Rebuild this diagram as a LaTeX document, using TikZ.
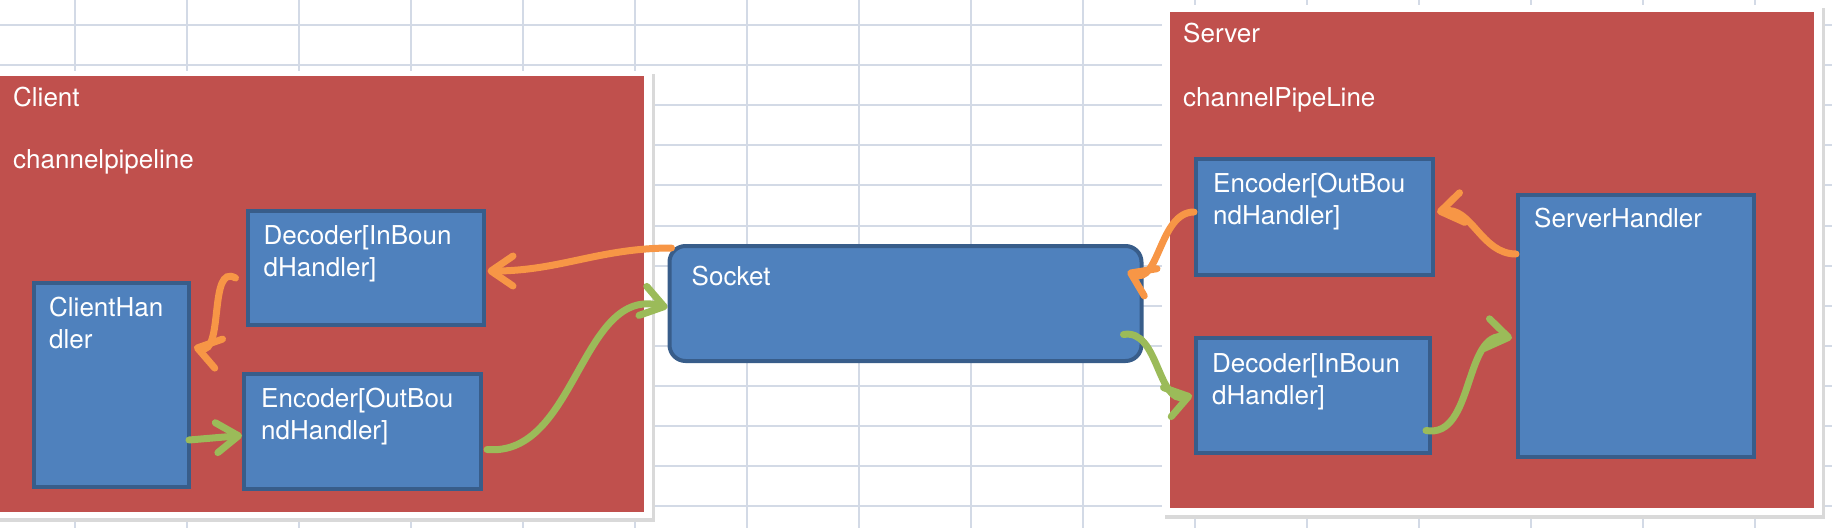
\documentclass[tikz,border=0pt]{standalone}
\usepackage{fontspec}
\setmainfont{TeX Gyre Heros}
\usetikzlibrary{calc}
\usetikzlibrary{arrows.meta}
\usetikzlibrary{positioning}

\definecolor{pipered}{HTML}{C0504D}
\definecolor{boxblue}{HTML}{4F81BD}
\definecolor{boxedge}{HTML}{385D8A}
\definecolor{inorange}{HTML}{F79646}
\definecolor{outgreen}{HTML}{9BBB59}
\definecolor{cellline}{HTML}{D3DAE6}

\tikzset{
 cell/.style={cellline, line width=2pt},
 pipe/.style={fill=pipered, draw=none, inner sep=0, anchor=north west},
 handler/.style={fill=boxblue, draw=boxedge, line width=4pt, inner sep=0, anchor=north west},
 lbl/.style={text=white, font=\fontsize{26}{32}\selectfont, align=left, anchor=north west, inner sep=0},
 flow/.style={line width=7pt, line cap=round, -{Straight Barb[length=22pt, width=30pt, round]}},
}

\begin{document}
\begin{tikzpicture}[x=1pt, y=-1pt]
\useasboundingbox (0,0) rectangle (1832,528);
\foreach \gx in {75,187,...,1755} \draw[cell] (\gx,0) -- (\gx,528);
\foreach \k in {0,...,12} \draw[cell] (0,{25+40.1*\k}) -- (1832,{25+40.1*\k});

\fill[black!15] (-4,74) rectangle (655,522);
\fill[white] (-4,71) rectangle (652,518);
\fill[black!15] (1165,8) rectangle (1825,519);
\fill[white] (1162,5) rectangle (1822,515);

\node[pipe, minimum width=644pt, minimum height=436pt] (cbox) at (0,76) {};
\node[pipe, minimum width=644pt, minimum height=496pt] (sbox) at (1170,12) {};
\node[lbl] (ctitle) at ([shift={(13,11)}]cbox.north west) {Client};
\node[lbl] (cpipe) at ([shift={(13,73)}]cbox.north west) {channelpipeline};
\node[lbl] (stitle) at ([shift={(13,11)}]sbox.north west) {Server};
\node[lbl] (spipe) at ([shift={(13,75)}]sbox.north west) {channelPipeLine};

\node[handler, minimum width=236pt, minimum height=114pt] (cdec) at (245.5,209) {};
\node[handler, minimum width=237pt, minimum height=115pt] (cenc) at (242,372) {};
\node[handler, minimum width=155pt, minimum height=204pt] (chand) at (32,281) {};
\node[handler, rounded corners=16pt, minimum width=472pt, minimum height=115pt] (sock) at (667.5,244) {};
\node[handler, minimum width=237pt, minimum height=116pt] (senc) at (1194,157) {};
\node[handler, minimum width=234pt, minimum height=115pt] (sdec) at (1194,336) {};
\node[handler, minimum width=236pt, minimum height=262pt] (shand) at (1516,193) {};

\node[lbl] (cdectext) at ([shift={(18,16)}]cdec.north west) {Decoder[InBoun\\dHandler]};
\node[lbl] (cenctext) at ([shift={(19,16)}]cenc.north west) {Encoder[OutBou\\ndHandler]};
\node[lbl] (chandtext) at ([shift={(17,16)}]chand.north west) {ClientHan\\dler};
\node[lbl] (socktext) at ([shift={(24,22)}]sock.north west) {Socket};
\node[lbl] (senctext) at ([shift={(19,16)}]senc.north west) {Encoder[OutBou\\ndHandler]};
\node[lbl] (sdectext) at ([shift={(18,17)}]sdec.north west) {Decoder[InBoun\\dHandler]};
\node[lbl] (shandtext) at ([shift={(18,15)}]shand.north west) {ServerHandler};

\draw[flow, inorange] ([shift={(4,4)}]sock.north west) to[out=180, in=0] ([shift={(2,3)}]cdec.east);
\draw[flow, inorange] ([shift={(-10,10)}]cdec.west) to[out=150, in=-15] ([shift={(3,-38)}]chand.east);
\draw[flow, outgreen] ([shift={(-2,55)}]chand.east) -- ([shift={(0,4)}]cenc.west);
\draw[flow, outgreen] ([shift={(4,18)}]cenc.east) to[out=-5, in=165] ([shift={(0,4)}]sock.west);
\draw[flow, inorange] ([shift={(0,-5)}]senc.west) to[out=180, in=-25] ([shift={(-16,-32)}]sock.east);
\draw[flow, outgreen] ([shift={(-20,31)}]sock.east) to[out=10, in=195] ([shift={(-2,0)}]sdec.west);
\draw[flow, inorange] ([shift={(0,-72)}]shand.west) to[out=180, in=10] ([shift={(2,-5)}]senc.east);
\draw[flow, outgreen] ([shift={(-6,35)}]sdec.east) to[out=-10, in=170] ([shift={(-4,12)}]shand.west);
\end{tikzpicture}
\end{document}
